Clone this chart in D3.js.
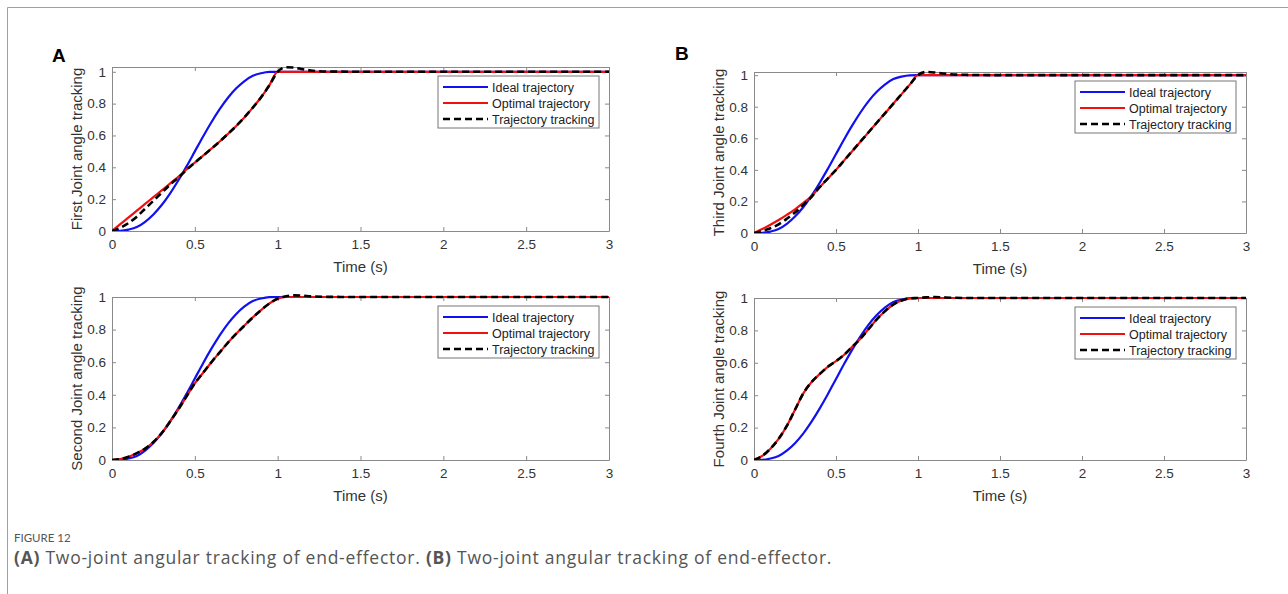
<!DOCTYPE html>
<html>
<head>
<meta charset="utf-8">
<script src="https://cdn.jsdelivr.net/npm/d3@7"></script>
<style>
  body { margin: 0; background: #fff; }
  svg { display: block; }
</style>
</head>
<body>
<div id="chart"></div>
<script>
// time samples (s) shared by every series
var time = [0, 0.05, 0.1, 0.15, 0.2, 0.25, 0.3, 0.35, 0.4, 0.45, 0.5, 0.55, 0.6, 0.65, 0.7,
  0.75, 0.8, 0.85, 0.9, 0.95, 1, 1.05, 1.1, 1.15, 1.2, 1.3, 1.5, 3];

// ideal trajectory, same in all four plots
var ideal = [0, 0.001, 0.009, 0.025, 0.058, 0.104, 0.163, 0.235, 0.317, 0.406, 0.5, 0.594, 0.683, 0.765, 0.837,
  0.896, 0.942, 0.975, 0.991, 0.999, 1, 1, 1, 1, 1, 1, 1, 1];

var firstOptimal = [0, 0.043, 0.085, 0.128, 0.17, 0.213, 0.255, 0.298, 0.34, 0.386, 0.43, 0.473, 0.517, 0.562, 0.61,
  0.66, 0.715, 0.775, 0.84, 0.915, 1, 1, 1, 1, 1, 1, 1, 1];
var firstTracking = [0, 0.02, 0.05, 0.09, 0.14, 0.19, 0.24, 0.29, 0.335, 0.384, 0.43, 0.473, 0.517, 0.562, 0.61,
  0.66, 0.715, 0.775, 0.84, 0.915, 1, 1.028, 1.026, 1.016, 1.008, 1.002, 1, 1];

var secondOptimal = [0, 0.006, 0.02, 0.042, 0.07, 0.11, 0.165, 0.235, 0.31, 0.39, 0.47, 0.535, 0.6, 0.66, 0.72,
  0.775, 0.825, 0.875, 0.92, 0.96, 0.99, 1, 1, 1, 1, 1, 1, 1];
var secondTracking = [0, 0.006, 0.02, 0.042, 0.07, 0.11, 0.165, 0.235, 0.31, 0.39, 0.47, 0.535, 0.6, 0.66, 0.72,
  0.775, 0.825, 0.875, 0.92, 0.96, 0.99, 1.004, 1.01, 1.008, 1.004, 1.001, 1, 1];

var thirdOptimal = [0, 0.025, 0.052, 0.082, 0.115, 0.15, 0.19, 0.232, 0.29, 0.345, 0.4, 0.46, 0.52, 0.58, 0.64,
  0.7, 0.76, 0.82, 0.88, 0.94, 1, 1, 1, 1, 1, 1, 1, 1];
var thirdTracking = [0, 0.012, 0.03, 0.055, 0.09, 0.13, 0.178, 0.228, 0.29, 0.345, 0.4, 0.46, 0.52, 0.58, 0.64,
  0.7, 0.76, 0.82, 0.88, 0.94, 1, 1.02, 1.017, 1.011, 1.006, 1.002, 1, 1];

var fourthOptimal = [0, 0.025, 0.07, 0.13, 0.21, 0.31, 0.41, 0.48, 0.53, 0.575, 0.61, 0.65, 0.7, 0.75, 0.81,
  0.87, 0.92, 0.96, 0.985, 0.998, 1, 1, 1, 1, 1, 1, 1, 1];
var fourthTracking = [0, 0.025, 0.07, 0.13, 0.21, 0.31, 0.41, 0.48, 0.53, 0.575, 0.61, 0.65, 0.7, 0.75, 0.81,
  0.87, 0.92, 0.96, 0.985, 0.998, 1, 1.004, 1.006, 1.004, 1.002, 1, 1, 1];

var xTicks = [0, 0.5, 1, 1.5, 2, 2.5, 3];
var yTicks = [0, 0.2, 0.4, 0.6, 0.8, 1];
var legendLabels = ["Ideal trajectory", "Optimal trajectory", "Trajectory tracking"];

var panels = [
  { label: "First Joint angle tracking", yMax: 1.03, optimal: firstOptimal, tracking: firstTracking,
    left: 112, right: 609, top: 67, bottom: 231 },
  { label: "Second Joint angle tracking", yMax: 1, optimal: secondOptimal, tracking: secondTracking,
    left: 112, right: 609, top: 297, bottom: 460 },
  { label: "Third Joint angle tracking", yMax: 1.02, optimal: thirdOptimal, tracking: thirdTracking,
    left: 754, right: 1246, top: 72, bottom: 233 },
  { label: "Fourth Joint angle tracking", yMax: 1, optimal: fourthOptimal, tracking: fourthTracking,
    left: 754, right: 1246, top: 298, bottom: 460 }
];

var font = "Liberation Sans, Arial, sans-serif";
var width = 1288, height = 594;
var svg = d3.select("#chart").append("svg")
  .attr("width", width)
  .attr("height", height)
  .attr("font-family", font);

// figure frame
svg.append("path")
  .attr("d", "M7.5," + height + "V7.5H" + width)
  .attr("fill", "none")
  .attr("stroke", "#a0a0a0");

svg.append("text").text("A").attr("x", 52).attr("y", 62)
  .attr("font-size", 19).attr("font-weight", "bold");
svg.append("text").text("B").attr("x", 675).attr("y", 60)
  .attr("font-size", 19).attr("font-weight", "bold");

var styles = [
  { color: "#1010f0", width: 2.2, dash: null },
  { color: "#f01010", width: 2.2, dash: null },
  { color: "#000", width: 2.6, dash: "7,4" }
];

panels.forEach(function(p, i) {
  var x = d3.scaleLinear().domain([0, 3]).range([p.left, p.right]);
  var y = d3.scaleLinear().domain([0, p.yMax]).range([p.bottom, p.top]);
  var g = svg.append("g");
  var axisColor = "#8a8a8a";

  var clipId = "clip" + i;
  svg.append("clipPath").attr("id", clipId)
    .append("rect")
    .attr("x", p.left).attr("y", p.top - 3)
    .attr("width", p.right - p.left).attr("height", p.bottom - p.top + 3);

  // axes with inward ticks
  var gx = g.append("g")
    .attr("transform", "translate(0," + p.bottom + ")")
    .call(d3.axisBottom(x).tickValues(xTicks).tickSizeInner(-4).tickSizeOuter(0)
      .tickPadding(8).tickFormat(d3.format("")));
  var gy = g.append("g")
    .attr("transform", "translate(" + p.left + ",0)")
    .call(d3.axisLeft(y).tickValues(yTicks).tickSizeInner(-4).tickSizeOuter(0)
      .tickPadding(6).tickFormat(d3.format("")));
  var gt = g.append("g")
    .attr("transform", "translate(0," + p.top + ")")
    .call(d3.axisTop(x).tickValues(xTicks).tickSizeInner(-4).tickSizeOuter(0).tickFormat(""));
  var gr = g.append("g")
    .attr("transform", "translate(" + p.right + ",0)")
    .call(d3.axisRight(y).tickValues(yTicks).tickSizeInner(-4).tickSizeOuter(0).tickFormat(""));

  [gx, gy, gt, gr].forEach(function(a) {
    a.attr("font-family", font).attr("font-size", 13.5);
    a.select(".domain").attr("stroke", axisColor);
    a.selectAll(".tick line").attr("stroke", axisColor);
    a.selectAll("text").attr("fill", "#333");
  });

  g.append("text")
    .text("Time (s)")
    .attr("x", (p.left + p.right) / 2)
    .attr("y", p.bottom + 41)
    .attr("text-anchor", "middle")
    .attr("font-size", 15)
    .attr("fill", "#333");

  g.append("text")
    .text(p.label)
    .attr("transform", "translate(" + (p.left - 30) + "," + ((p.top + p.bottom) / 2) + ") rotate(-90)")
    .attr("text-anchor", "middle")
    .attr("font-size", 15)
    .attr("fill", "#333");

  var line = d3.line()
    .x(function(d, k) { return x(time[k]); })
    .y(function(d) { return y(d); })
    .curve(d3.curveMonotoneX);

  var plot = g.append("g").attr("clip-path", "url(#" + clipId + ")");
  [ideal, p.optimal, p.tracking].forEach(function(series, s) {
    plot.append("path")
      .datum(series)
      .attr("d", line)
      .attr("fill", "none")
      .attr("stroke", styles[s].color)
      .attr("stroke-width", styles[s].width)
      .attr("stroke-dasharray", styles[s].dash);
  });

  // legend
  var lg = g.append("g")
    .attr("transform", "translate(" + (p.right - 171) + "," + (p.top + 9) + ")");
  lg.append("rect")
    .attr("width", 161).attr("height", 52)
    .attr("fill", "#fff").attr("stroke", "#777");
  legendLabels.forEach(function(name, s) {
    var ly = 11 + s * 16;
    lg.append("line")
      .attr("x1", 5).attr("x2", 50).attr("y1", ly).attr("y2", ly)
      .attr("stroke", styles[s].color)
      .attr("stroke-width", styles[s].width)
      .attr("stroke-dasharray", styles[s].dash);
    lg.append("text")
      .text(name)
      .attr("x", 54).attr("y", ly + 4.5)
      .attr("font-size", 12.5)
      .attr("fill", "#222");
  });
});

// caption
svg.append("text")
  .text("FIGURE 12")
  .attr("x", 14).attr("y", 542)
  .attr("font-size", 11.5)
  .attr("fill", "#555")
  .attr("font-family", "Lato, sans-serif");

var cap = svg.append("text")
  .attr("x", 14).attr("y", 564)
  .attr("font-size", 17.5)
  .attr("letter-spacing", 0.75)
  .attr("fill", "#555")
  .attr("font-family", "Open Sans, sans-serif");
cap.append("tspan").text("(A)").attr("font-weight", "bold");
cap.append("tspan").text(" Two-joint angular tracking of end-effector. ");
cap.append("tspan").text("(B)").attr("font-weight", "bold");
cap.append("tspan").text(" Two-joint angular tracking of end-effector.");
</script>
</body>
</html>
